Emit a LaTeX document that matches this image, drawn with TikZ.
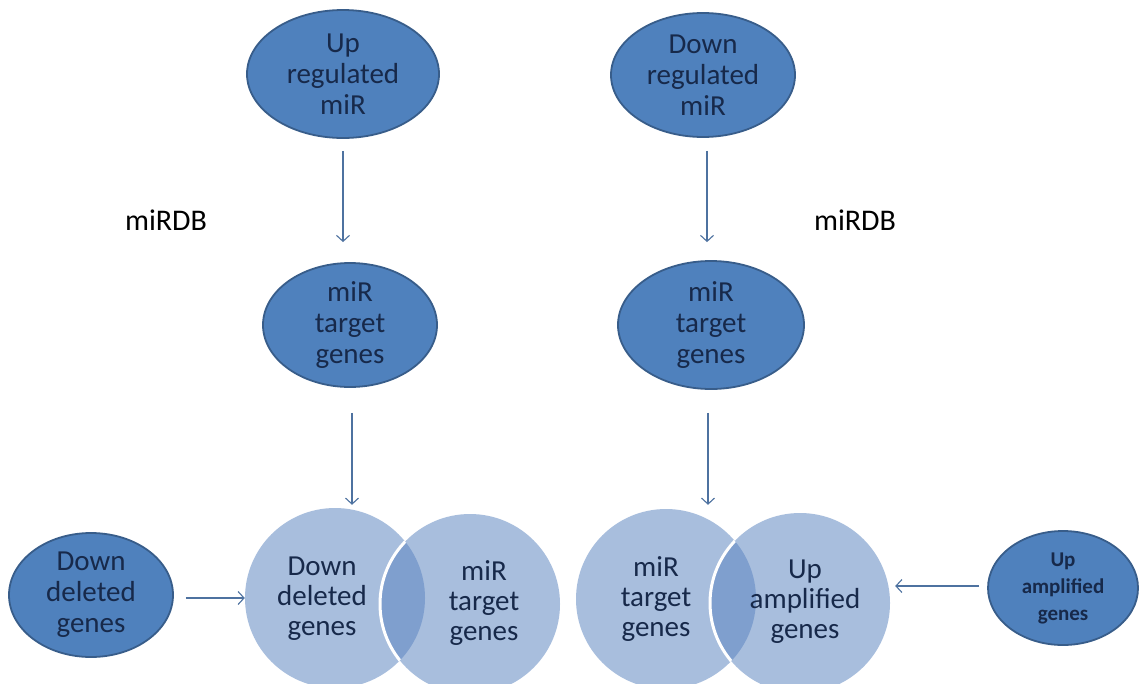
\documentclass[tikz,border=0pt]{standalone}
\usepackage{fontspec}
\setmainfont{Carlito}
\usetikzlibrary{shapes.geometric,arrows.meta,calc}
\definecolor{ellfill}{HTML}{4F81BD}
\definecolor{elldraw}{HTML}{385D8A}
\definecolor{txt}{HTML}{17294A}
\definecolor{vennfill}{HTML}{A8BEDD}
\definecolor{lensfill}{HTML}{7F9FCE}
\definecolor{arr}{HTML}{4E72A0}
\tikzset{
  ell/.style={ellipse, fill=ellfill, draw=elldraw, line width=1.8pt, inner sep=0pt,
    align=center, text=txt, font=\fontsize{29}{31}\selectfont},
  venntext/.style={align=center, text=txt, font=\fontsize{29}{30}\selectfont},
  vcirc/.style={circle, inner sep=0pt, minimum size=180pt},
  conn/.style={draw=arr, line width=1.1pt, -{Straight Barb[length=6pt,width=13pt,line width=1.1pt]}},
  lbl/.style={text=black, font=\fontsize{30}{30}\selectfont}
}
\begin{document}
\begin{tikzpicture}[x=1pt,y=-1pt]
\useasboundingbox (0,0) rectangle (1139,683);
\fill[white] (0,0) rectangle (1139,683);

% top ellipses
\node[ell, minimum width=192pt, minimum height=128pt] (upL) at (343,74) {Up\\regulated\\miR};
\node[ell, minimum width=184pt, minimum height=124pt] (upR) at (703,75) {Down\\regulated\\miR};

% middle ellipses
\node[ell, minimum width=174pt, minimum height=124pt] (midL) at (350,325) {miR\\target\\genes};
\node[ell, minimum width=186pt, minimum height=128pt] (midR) at (711,325) {miR\\target\\genes};

% side ellipses
\node[ell, minimum width=164pt, minimum height=124pt] (dd) at (91,595) {Down\\deleted\\genes};
\node[ell, minimum width=150pt, minimum height=114pt, font=\bfseries\fontsize{21}{27}\selectfont] (ua) at (1063,588) {Up\\amplified\\genes};

% labels
\node[lbl] (db1) at (166,220) {miRDB};
\node[lbl] (db2) at (855,220) {miRDB};

% left venn
\node[vcirc, fill=vennfill] (vL1) at (335,598) {};
\node[vcirc, fill=vennfill] (vL2) at (470,604) {};
\begin{scope}
  \clip (335,598) circle (90);
  \fill[lensfill] (470,604) circle (90);
  \draw[white, line width=3pt] (470,604) circle (90);
\end{scope}

% right venn
\node[vcirc, fill=vennfill] (vR1) at (666,599) {};
\node[vcirc, fill=vennfill] (vR2) at (800,603) {};
\begin{scope}
  \clip (666,599) circle (90);
  \fill[lensfill] (800,603) circle (90);
  \draw[white, line width=3pt] (800,603) circle (90);
\end{scope}

% venn texts
\node[venntext] (tL1) at (322,599) {Down\\deleted\\genes};
\node[venntext] (tL2) at (484,603) {miR\\target\\genes};
\node[venntext] (tR1) at (656,599) {miR\\target\\genes};
\node[venntext] (tR2) at (805,602) {Up\\amplified\\genes};

% connectors
\draw[conn, shorten <=12pt, shorten >=20pt] (upL.south) -- (upL.south |- midL.north);
\draw[conn, shorten <=13pt, shorten >=18pt] ([xshift=4pt]upR.south) -- ([xshift=4pt]upR.south |- midR.north);
\draw[conn, shorten <=25pt, shorten >=3pt] ([xshift=2pt]midL.south) -- ([xshift=2pt]midL.south |- vL1.north);
\draw[conn, shorten <=23pt, shorten >=4pt] ([xshift=-3pt]midR.south) -- ([xshift=-3pt]midR.south |- vR1.north);
\draw[conn, shorten <=12pt, shorten >=0pt] ([yshift=-3pt]dd.east) -- ([yshift=-3pt]dd.east -| vL1.west);
\draw[conn, shorten <=8pt, shorten >=5pt] ([yshift=2pt]ua.west) -- ([yshift=2pt]ua.west -| vR2.east);
\end{tikzpicture}
\end{document}
